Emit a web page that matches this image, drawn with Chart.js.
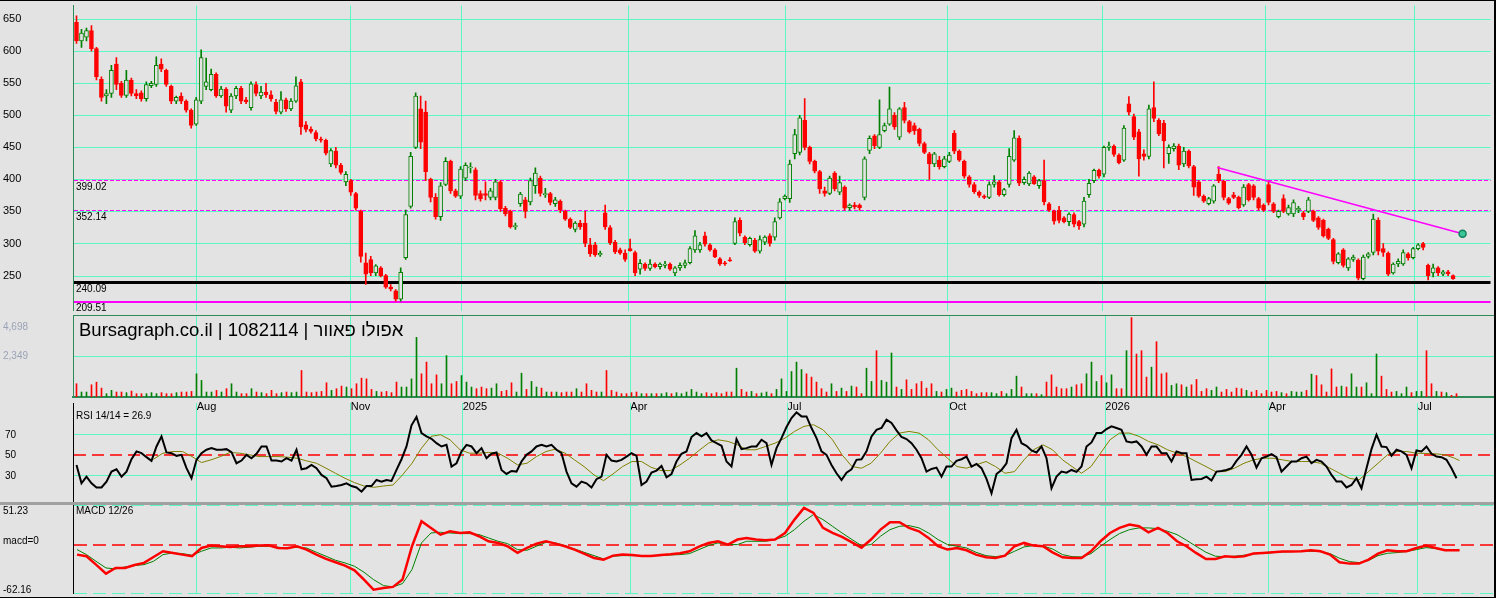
<!DOCTYPE html>
<html>
<head>
<meta charset="utf-8">
<script src="https://cdn.jsdelivr.net/npm/chart.js@4.4.1/dist/chart.umd.min.js"></script>
<style>
  html, body { margin: 0; padding: 0; background: #e3e3e3; }
  #frame { position: relative; width: 1496px; height: 598px; background: #e3e3e3; overflow: hidden; }
  #frame canvas { position: absolute; left: 0; }
  .rule { position: absolute; }
</style>
</head>
<body>
<div id="frame">
  <canvas id="price" width="1496" height="316" style="top:0"></canvas>
  <canvas id="vol" width="1496" height="101" style="top:315px"></canvas>
  <canvas id="rsi" width="1496" height="103" style="top:403px"></canvas>
  <canvas id="macd" width="1496" height="92" style="top:505px"></canvas>
  <div class="rule" style="left:73px;top:315px;width:1422px;height:1px;background:#2e8b57"></div>
  <div class="rule" style="left:0;top:502px;width:1496px;height:3px;background:#a0a0a0"></div>
  <div class="rule" style="left:0;top:0;width:1496px;height:598px;box-sizing:border-box;border-top:1px solid #000;border-right:2px solid #000;border-bottom:1px solid #000"></div>
</div>
<script>
// values, one entry per candle (about two sessions each)
const monthLabels = ['Aug', 'Nov', '2025', 'Apr', 'Jul', 'Oct', '2026', 'Apr', 'Jul'];
const monthStart = [24.04, 54.84, 77.24, 110.76, 142.16, 174.56, 205.76, 238.44, 268.24];
const priceTicks = [650, 600, 550, 500, 450, 400, 350, 300, 250];
const levels = [399.02, 352.14, 240.09, 209.51];
const volTicks = [2349, 4698];
const rsiTicks = [70, 50, 30];
const macdMarks = [51.23, -62.16];
const trendAt = [228.7, 277.9];
const trendVal = [418.6, 315.2];

const open = [645,616,622,632,604,556,530,534,580,550, 531,555,534,535,526,546,548,580,570,545,
  522,530,522,508,486,522,545,540,564,530, 541,508,530,542,524,512,548,530,536,532,
  520,505,524,510,522,552,485,478,473,463, 461,424,444,422,396,398,378,350,270,275,
  254,262,250,232,226,213,278,358,450,510, 505,400,372,342,392,428,382,374,402,418,
  415,378,378,372,372,396,355,350,326,362, 368,365,390,402,376,378,362,366,350,338,
  322,332,332,298,298,282,348,325,302,290, 285,292,286,260,268,261,268,264,266,268,
  254,262,266,270,290,290,312,298,290,276, 270,274,300,336,310,298,305,288,302,312,
  310,340,370,370,440,442,492,450,428,412, 382,378,410,380,388,356,360,360,372,445,
  468,450,476,486,500,466,512,490,484,478, 456,440,424,430,420,428,472,444,428,404,
  392,380,374,372,392,396,376,392,430,464, 395,393,404,390,398,362,350,352,340,334,
  345,334,330,376,398,414,408,450,452,438, 430,518,498,474,440,436,512,492,488,440,
  448,452,424,444,420,396,374,362,366,408, 397,370,376,372,360,392,390,370,360,392,
  362,342,370,346,346,352,348,350,350,340, 336,322,306,270,290,262,275,274,245,280,
  286,336,292,285,254,268,268,284,278,292, 300,266,254,262,252,256,250];
const high = [655,634,636,640,606,560,540,578,590,553, 570,558,540,538,552,553,591,588,572,547,
  530,535,524,510,528,602,589,572,566,545, 543,534,545,545,528,552,552,545,550,538,
  525,537,527,526,560,556,490,482,476,466, 463,448,450,425,412,400,380,352,285,280,
  267,264,252,236,228,262,352,442,535,530, 522,402,378,395,434,430,385,420,426,426,
  418,382,396,386,400,398,358,352,332,380, 372,402,418,405,386,380,372,368,352,340,
  334,336,350,308,302,288,360,328,305,293, 290,307,288,275,270,275,270,270,272,270,
  264,270,274,295,320,302,318,300,292,278, 272,278,340,340,312,310,308,312,312,315,
  340,370,376,430,478,500,526,452,430,414, 388,405,412,405,390,362,364,362,435,468,
  470,524,488,544,504,512,520,492,488,480, 458,442,442,436,436,442,476,446,430,406,
  395,382,376,396,406,398,386,448,476,468, 404,412,406,400,430,364,352,358,342,348,
  348,336,372,400,416,416,452,458,454,440, 484,529,502,478,446,516,552,495,492,454,
  456,455,450,446,422,398,376,372,392,420, 399,372,380,374,392,394,392,372,362,398,
  364,352,376,360,368,358,350,372,352,342, 338,324,308,286,292,278,282,276,282,286,
  346,340,300,287,270,276,290,286,294,300, 302,268,268,264,258,258,251];
const low = [612,606,616,600,555,522,518,528,540,528, 528,530,526,522,522,543,545,568,545,518,
  518,518,505,480,484,518,540,538,528,528, 505,504,526,518,518,508,530,526,528,522,
  502,502,506,507,520,470,474,472,460,458, 438,420,418,408,390,375,352,271,236,250,
  250,248,230,226,210,210,275,355,448,448, 398,365,338,336,390,378,372,370,398,410,
  368,366,368,368,368,350,343,324,322,358, 340,360,378,374,372,360,358,348,336,323,
  318,322,295,280,280,280,322,298,284,283, 272,288,250,252,258,258,262,260,262,258,
  250,258,262,268,286,286,296,288,278,266, 266,272,298,312,298,296,286,285,298,296,
  305,338,368,364,432,438,446,424,410,378, 374,376,382,376,352,352,354,352,368,440,
  448,448,474,484,478,462,488,472,470,452, 440,400,420,416,418,426,440,428,402,388,
  378,372,370,370,388,374,374,388,428,390, 392,390,392,386,360,350,330,332,332,328,
  326,322,326,372,395,402,404,445,436,424, 428,500,462,405,430,432,490,468,418,425,
  444,415,420,418,375,372,364,360,363,395, 368,361,370,354,358,366,368,352,350,360,
  348,340,348,344,342,348,337,348,334,322, 310,306,268,268,263,258,272,243,243,277,
  282,282,280,250,252,264,266,274,276,290, 290,243,248,250,250,250,244];
const close = [616,628,632,604,560,528,534,570,548,531, 555,534,530,526,548,550,578,572,548,522,
  528,522,508,484,524,590,552,564,530,541, 514,530,542,522,521,549,534,536,532,526,
  506,524,510,522,546,482,478,475,463,461, 441,445,422,411,408,380,355,280,252,254,
  265,250,232,229,213,255,345,436,530,458, 412,372,342,390,428,382,374,416,422,418,
  375,370,375,382,396,354,346,326,328,377, 350,398,410,378,378,364,368,352,338,325,
  332,326,300,284,282,285,326,301,287,285, 275,289,254,269,261,268,264,268,268,260,
  262,266,270,292,312,298,299,290,279,268, 268,273,334,316,301,308,288,306,310,300,
  334,365,374,424,470,496,450,428,413,385, 378,402,385,395,355,360,357,356,432,464,
  452,470,484,510,482,510,492,474,476,456, 442,424,440,420,432,438,444,430,405,392,
  381,375,372,392,396,376,384,436,465,394, 400,410,393,398,365,352,335,336,334,346,
  330,328,366,394,414,405,450,452,439,426, 480,505,466,432,436,510,495,471,460,450,
  452,422,444,421,388,374,366,370,390,398, 372,363,372,356,388,368,372,355,352,364,
  350,350,350,356,364,355,342,368,336,325, 312,308,272,284,266,276,279,246,279,284,
  338,288,286,252,268,272,286,278,292,298, 294,250,262,254,256,253,245];
const volume = [760,285,285,700,850,510,190,380,285,285, 250,340,190,190,190,250,190,250,190,190,
  250,285,285,320,1330,950,285,285,380,285, 475,760,285,190,190,475,285,250,190,380,
  190,250,285,250,285,1520,285,250,285,320, 815,380,475,625,570,475,760,1080,1040,435,
  320,285,320,250,855,570,570,1040,3415,1330, 2000,760,1270,760,2370,760,890,1230,855,570,
  475,570,475,510,760,320,380,815,285,1365, 435,890,570,510,285,285,285,250,285,285,
  475,285,760,380,285,285,1520,380,285,190, 190,250,285,190,190,190,190,190,250,190,
  250,190,285,435,285,190,250,190,250,190, 285,285,1650,435,285,320,190,230,285,190,
  435,1040,320,1460,2000,1575,1330,1140,855,475, 285,760,320,510,320,625,570,190,1650,890,
  2655,950,855,2520,570,435,985,435,760,890, 510,760,320,285,435,510,285,380,435,320,
  190,250,250,250,190,320,190,435,1195,570, 190,190,190,135,855,1270,570,475,475,570,
  700,760,1330,2000,890,1230,815,1270,475,475, 2655,4550,2465,2655,1140,1710,3170,1330,1385,665,
  760,700,570,700,1005,320,475,380,570,285, 435,285,510,475,380,285,380,190,380,285,
  320,250,190,320,285,285,380,1310,1230,700, 285,1610,570,625,570,1330,570,570,815,190,
  2465,1195,435,285,320,190,570,250,320,320, 2655,760,320,285,250,95,190];
const rsi = [39.9,22,28.5,22,18,18,23.7,33.4,35.7,28.5, 33.4,45.4,53,51.3,47.4,43.8,57.8,67.6,52,51.3,
  48.7,49.7,36.7,27,44.8,51.3,54.6,56.2,54.6,54.6, 55.2,52.3,41.5,44.1,49.7,46.4,50.7,57.8,57.8,44.1,
  44.1,43.2,46.4,44.1,54.6,35.7,36.7,39.9,36.7,30.2, 27,18.8,19.4,20.4,22,19.4,18,13.9,19.4,19.4,
  25.3,23.7,25.3,24.3,35,45.4,57.8,78.3,86.4,70.8, 67.6,65.3,61,57.8,59.4,38.3,41.5,53,59.4,57.8,
  51.3,56.2,46.4,50.7,52,35,31.1,34,33.4,43.2, 49.7,53,57.8,59.4,57.8,59.4,54.6,51.3,33.4,22,
  18.8,23.7,22,18,26,28.5,49.7,44.1,43.2,44.8, 48,51.3,48.7,20.4,23.7,32.4,34.4,38.9,27.9,31.1,
  43.2,50.7,53,67,70.8,67.6,70.8,63.7,61,58.5, 43.2,38.3,65,55.2,56.2,57.8,57.8,64.3,61,39.9,
  56.2,65.9,76.7,85.4,91,87,87,75.7,65.9,53, 49.7,39.9,31.8,25.3,32.4,35.7,44.8,45.4,53,67.6,
  74,75.7,83.8,80.6,73.4,67,65,61,54.6,46.4, 33.4,36,37.3,28.5,38.3,38.3,43.8,45.4,48,38.3,
  40.9,36.7,26.3,12.3,31.1,35,41.5,65.9,74,61, 58.5,53.9,52,57.8,46.4,17.2,28.5,33.4,32.4,35,
  33.1,38.3,57.8,61.7,70.8,70.8,74.7,77.3,75.7,74, 62.7,61.7,62.7,57.8,49.7,57.8,57.8,51.3,51.3,43.2,
  53,51.3,51.3,25.3,26,26.3,28.5,24.7,33.4,34, 35,36.7,43.8,49.7,57.8,49.7,37.3,46.4,48,50.3,
  47.4,33.4,38.3,43.2,43.2,46.4,48,41.5,44.8,43.2, 38.3,30.2,23.7,23.7,18,20.4,27,17.2,36.7,55.2,
  69.2,57.8,57.2,48.7,54.6,53,49.7,36.7,53.9,53, 57.8,50.7,48,47.4,44.8,36.7,26.9];

// smoothed lines, sampled at these candle positions
const lineAt = [0.1,2.0,3.9,5.9,7.8,9.7,11.6,13.5,15.4,17.3, 19.3,21.2,23.1,25.0,26.9,28.8,30.7,32.6,34.6,36.5,
  38.4,40.3,42.2,44.1,46.0,48.0,49.9,51.8,53.7,55.6, 57.5,59.4,61.4,63.3,65.2,67.1,69.0,70.9,72.8,74.7,
  76.7,78.6,80.5,82.4,84.3,86.2,88.2,90.1,92.0,93.9, 95.8,97.7,99.6,101.5,103.5,105.4,107.3,109.2,111.1,113.0,
  114.9,116.9,118.8,120.7,122.6,124.5,126.4,128.3,130.3,132.2,
  134.0,135.9,137.8,139.7,141.7,143.6,145.5,147.4,149.3,151.2, 153.1,155.1,157.0,158.9,160.8,162.7,164.6,166.5,168.5,170.4,
  172.3,174.2,176.1,178.0,179.9,181.9,183.8,185.7,187.6,189.5, 191.4,193.3,195.2,197.2,199.1,201.0,202.9,204.8,206.7,208.6,
  210.6,212.5,214.4,216.3,218.2,220.1,222.0,223.9,225.9,227.8, 229.7,231.6,233.5,235.4,237.3,239.3,241.2,243.1,245.0,246.9,
  248.8,250.7,252.6,254.6,256.5,258.4,260.3,262.2,264.1,266.0, 268.0,269.9,271.8,273.7,275.6,276.6];
const rsiSig = [null,null,null,null,null,null,null,null,45.4,51.3, 52.9,52.9,48,42.2,44.8,48,52,51.3,49.7,48,
  48,48,47.4,46.4,43.8,41.5,36.7,31.8,26.9,22.7, 19.4,18.1,19.4,20.4,30.2,41.5,56.2,67.6,69.2,64.3,
  54.6,51.3,51.3,52,51.3,46.4,39.9,41.5,48,52.9, 55.2,51.3,44.8,38.3,30.2,24.6,31.1,38.3,43.2,43.2,
  37.6,34.4,34.4,39.9,46.4,53.9,61,64.3,62.7,59.4,
  54.6,54.6,57.8,61,65.9,72.4,77.3,78.9,74,64.3, 49.7,38.3,36.7,41.5,51.3,62.7,70.8,72.4,70.8,64.3,
  54.6,46.4,38.3,36.7,39.9,43.2,38.3,31.8,33.4,44.8, 54.6,59.4,54.6,44.8,38.3,31.8,38.3,51.3,64.3,70.8,
  70.8,67.6,62.7,59.4,54.6,51.3,48,43.2,38.3,33.4, 33.4,36.7,41.5,44.8,46.4,46.4,44.8,43.2,43.2,43.2,
  41.5,36.7,31.8,26.9,25.3,33.4,41.5,49.7,52.9,52.9, 51.3,51,50.7,49.7,46.4,44.1];
const macd = [-12.7,-14.8,-25.6,-37.2,-29.9,-29.9,-26,-23.4,-15.7,-8.4, -10.5,-12.7,-14.8,-4.1,-1.1,-1.9,-2.8,-1.9,-1.9,-1.1,
  -0.6,-4.1,-4.5,-1.9,-6.2,-12.7,-18.3,-22.6,-26.8,-32.9, -44.9,-57.8,-55.6,-54.3,-44.9,-1.9,30.3,21.6,13,17.4,
  15.2,16.1,11,4.5,2.4,-1.9,-10.5,-4.1,1.5,4.5, 1.5,-1.9,-6.2,-11.4,-17,-19.1,-14,-12.7,-13.1,-14.4,
  -14.4,-13.1,-12.2,-10.9,-8.4,-2.4,2.4,4.5,0.2,6.7,
  8.8,6.7,5.8,6.7,15.2,32.4,47.5,41,21.7,15.2, 10.1,3.2,-3.7,6.7,19.5,29,29,21.7,17.4,8.8,
  -1.9,-6.2,-4.1,-7.1,-12.7,-16.1,-17,-14,-1.9,2.4, -1.1,-1.9,-9.7,-16.1,-17,-17,-8.4,4.5,15.2,21.7,
  26,23.8,16.1,21.7,15.2,4.5,-1.9,-10.5,-18.3,-18.3, -14.8,-15.7,-14.8,-11.4,-10.5,-9.7,-8.8,-8.8,-8.4,-7.1,
  -8.4,-12.7,-22.6,-24.3,-24.3,-19.1,-11.4,-7.1,-8.4,-8.4, -4.1,-1.1,-4.1,-7.1,-7.1,-7.1];
const macdSig = [-6.2,-12.7,-21.3,-29.9,-31.1,-28.6,-26.8,-25.6,-21.3,-12.7, -10.5,-11.4,-13.5,-8.4,-4.1,-4.1,-3.2,-4.1,-3.2,-1.9,
  -1.9,-3.2,-4.1,-3.2,-4.1,-9.7,-14.8,-20,-23.4,-27.7, -35.4,-44.9,-52.6,-54.3,-50,-32,2.4,15.2,16.1,15.2,
  14.4,14.4,13.1,8.8,4.5,1.5,-6.2,-7.1,-1.9,3.2, 2.4,-1.1,-5.4,-9.7,-14,-18.3,-14.8,-14,-14,-14,
  -14,-14,-13.1,-12.7,-11.4,-6.2,-1.1,2.4,0.2,0.2,
  4.5,4.5,4.5,6.7,11,19.5,30.3,38.9,32.4,23.8, 15.2,6.7,-1.1,0.2,11,19.5,23.8,24.7,21.7,15.2,
  6.7,0.2,-1.9,-4.1,-9.7,-14,-15.3,-14,-8.4,-2.8, -1.1,-1.5,-5.4,-12.7,-15.3,-15.7,-11.4,-1.9,6.7,14.4,
  19.5,21.7,21.7,20.8,17.4,13.1,5.8,-1.9,-9.7,-14.8, -15.3,-14.8,-13.5,-11.8,-11,-10.1,-9.2,-8.8,-8.4,-8.4,
  -8.8,-11.4,-17.4,-21.7,-23,-20.4,-14,-11,-10.1,-8.8, -6.2,-3.7,-4.9,-6.7,-7.1,-7.1];

const titleText = 'Bursagraph.co.il | 1082114 | אפולו פאוור';
const rsiTitle = 'RSI 14/14 = 26.9';
const macdTitle = 'MACD 12/26';

// look
const AQUA = '#5cf8c4';
const BG = '#e3e3e3';
const UP = '#008000', DOWN = '#ff0000';
const FONT = 'Arial, "Liberation Sans", sans-serif';
const X_MIN = -0.7, X_MAX = 283.5;

const isUp = open.map((o, i) => close[i] >= o);
const candleCol = isUp.map(u => u ? UP : DOWN);
const pts = (xs, ys) => xs.map((x, i) => ({x: x, y: ys[i]}));

// horizontal grid / reference lines and the small side texts
function decor(cfg) {
    return {
        id: 'decor',
        beforeDatasetsDraw(chart) {
            let ctx = chart.ctx, a = chart.chartArea, y = chart.scales.y
            let grid = (cfg.grid || []).map(v => ({value: v, color: AQUA, width: 1}))
            grid.concat(cfg.lines || []).forEach(l => {
                let w = l.width || 1
                let py = Math.round(y.getPixelForValue(l.value))
                ctx.save()
                if (!l.dash) {
                    // solid rules as filled pixel rows so they stay crisp
                    ctx.fillStyle = l.color
                    ctx.fillRect(a.left + 1, py - Math.floor(w / 2), a.right - a.left - 1, Math.max(1, Math.round(w)))
                } else {
                    ctx.strokeStyle = l.color
                    ctx.lineWidth = w
                    ctx.setLineDash(l.dash)
                    let off = (Math.round(w) % 2) ? 0.5 : 0
                    ctx.beginPath(); ctx.moveTo(a.left + 1, py + off); ctx.lineTo(a.right, py + off); ctx.stroke()
                }
                ctx.restore()
            })
        },
        afterDraw(chart) {
            let ctx = chart.ctx, y = chart.scales.y
            ;(cfg.texts || []).forEach(t => {
                let py = t.value !== undefined ? y.getPixelForValue(t.value) + (t.dy || 0) : t.y
                ctx.save()
                ctx.font = t.font || ('10px ' + FONT)
                ctx.fillStyle = t.color || '#000'
                ctx.textBaseline = 'middle'
                ctx.textAlign = 'left'
                ctx.fillText(t.text, t.x, py)
                ctx.restore()
            })
        }
    }
}

function xAxis(labels, border) {
    return {
        type: 'linear', min: X_MIN, max: X_MAX, offset: false,
        afterBuildTicks: s => { s.ticks = monthStart.map(v => ({value: v})) },
        afterFit: s => { s.height = labels ? 19 : 0 },
        grid: {color: AQUA, lineWidth: 1, drawTicks: false, offset: false},
        border: border ? {display: true, color: '#2e8b57', width: 2} : {display: false},
        ticks: labels ? {
            display: true, align: 'start', padding: 3, color: '#000', autoSkip: false, maxRotation: 0,
            font: {family: FONT, size: 11},
            callback: (v, i) => monthLabels[i]
        } : {display: false}
    }
}

function yAxis(min, max, borderColor) {
    return {
        position: 'left', min: min, max: max,
        afterFit: s => { s.width = 70 },
        ticks: {display: false},
        grid: {display: false, drawTicks: false},
        border: {display: true, color: borderColor, width: 1}
    }
}

function baseOptions(pad, scales) {
    return {
        responsive: false, animation: false, events: [],
        layout: {padding: pad},
        plugins: {legend: {display: false}, tooltip: {enabled: false}},
        scales: scales
    }
}

// ---- price panel ----
let idx = open.map((o, i) => i)
new Chart(document.getElementById('price'), {
    type: 'bar',
    data: {
        datasets: [{
            type: 'line', order: 0,
            data: pts(trendAt, trendVal),
            borderColor: '#ff00ff', borderWidth: 1.5,
            pointRadius: [0, 3.5], pointBackgroundColor: '#3cc79a', pointBorderColor: '#11805e', pointBorderWidth: 1.5
        }, {
            order: 1, grouped: false,
            data: idx.map(i => ({x: i, y: [open[i], close[i]]})),
            backgroundColor: isUp.map(u => u ? BG : DOWN),
            borderColor: candleCol, borderWidth: 1, borderSkipped: false,
            barThickness: 4, minBarLength: 1
        }, {
            order: 2, grouped: false,
            data: idx.map(i => ({x: i, y: [low[i], high[i]]})),
            backgroundColor: candleCol, borderWidth: 0,
            barThickness: 1
        }]
    },
    options: baseOptions({left: 3, right: 2, top: 1, bottom: 1}, {
        x: xAxis(false, false),
        y: yAxis(195.5, 671.2, '#2e8b57')
    }),
    plugins: [decor({
        grid: priceTicks,
        lines: [
            {value: levels[0], color: '#ff00ff', width: 1, dash: [4, 2]},
            {value: levels[1], color: '#ff00ff', width: 1, dash: [4, 2]},
            {value: levels[2], color: '#000', width: 3},
            {value: levels[3], color: '#ff00ff', width: 2}
        ],
        texts: priceTicks.map(v => ({value: v, text: String(v), x: 3, font: '11px ' + FONT}))
            .concat(levels.map(v => ({value: v, text: v.toFixed(2), x: 76, dy: 7})))
    })]
})

// ---- volume panel ----
new Chart(document.getElementById('vol'), {
    type: 'bar',
    data: {
        datasets: [{
            data: idx.map(i => ({x: i, y: volume[i]})),
            backgroundColor: candleCol, barThickness: 1, grouped: false
        }]
    },
    options: baseOptions({left: 3, right: 2, top: 0, bottom: 0}, {
        x: xAxis(true, true),
        y: yAxis(0, volTicks[1], '#2e8b57')
    }),
    plugins: [decor({
        grid: [volTicks[0]],
        texts: [
            {value: volTicks[1], dy: 12, text: volTicks[1].toLocaleString('en-US'), x: 3, color: '#9aa3b5'},
            {value: volTicks[0], text: volTicks[0].toLocaleString('en-US'), x: 3, color: '#9aa3b5'},
            {y: 16, x: 79, text: titleText, font: '18.5px ' + FONT}
        ]
    })]
})

// ---- RSI panel ----
new Chart(document.getElementById('rsi'), {
    type: 'line',
    data: {
        datasets: [{
            data: pts(idx, rsi), borderColor: '#000', borderWidth: 2, pointRadius: 0
        }, {
            data: pts(lineAt, rsiSig), borderColor: '#808000', borderWidth: 1, pointRadius: 0
        }]
    },
    options: baseOptions({left: 3, right: 2, top: 0, bottom: 0}, {
        x: xAxis(false, false),
        y: yAxis(0, 100, '#000')
    }),
    plugins: [decor({
        grid: [rsiTicks[0], rsiTicks[2]],
        lines: [{value: rsiTicks[1], color: '#ff0000', width: 1.5, dash: [12, 6]}],
        texts: rsiTicks.map(v => ({value: v, dy: 1, text: String(v), x: 5}))
            .concat([{y: 13, x: 76, text: rsiTitle}])
    })]
})

// ---- MACD panel ----
new Chart(document.getElementById('macd'), {
    type: 'line',
    data: {
        datasets: [{
            data: pts(lineAt, macd), borderColor: '#ff0000', borderWidth: 2.5, pointRadius: 0
        }, {
            data: pts(lineAt, macdSig), borderColor: '#008000', borderWidth: 1, pointRadius: 0
        }]
    },
    options: baseOptions({left: 3, right: 2, top: 0, bottom: 4}, {
        x: xAxis(false, false),
        y: yAxis(macdMarks[1], macdMarks[0], '#000')
    }),
    plugins: [decor({
        lines: [
            {value: macdMarks[0], color: AQUA, width: 1, dash: [13, 6]},
            {value: macdMarks[1], color: AQUA, width: 1, dash: [13, 6]},
            {value: 0, color: '#ff0000', width: 1.5, dash: [13, 6]}
        ],
        texts: [
            {value: macdMarks[0], dy: 6, text: macdMarks[0].toFixed(2), x: 3},
            {value: 0, dy: -4, text: 'macd=0', x: 3},
            {value: macdMarks[1], dy: -3, text: macdMarks[1].toFixed(2), x: 3},
            {y: 6, x: 76, text: macdTitle}
        ]
    })]
})
</script>
</body>
</html>
